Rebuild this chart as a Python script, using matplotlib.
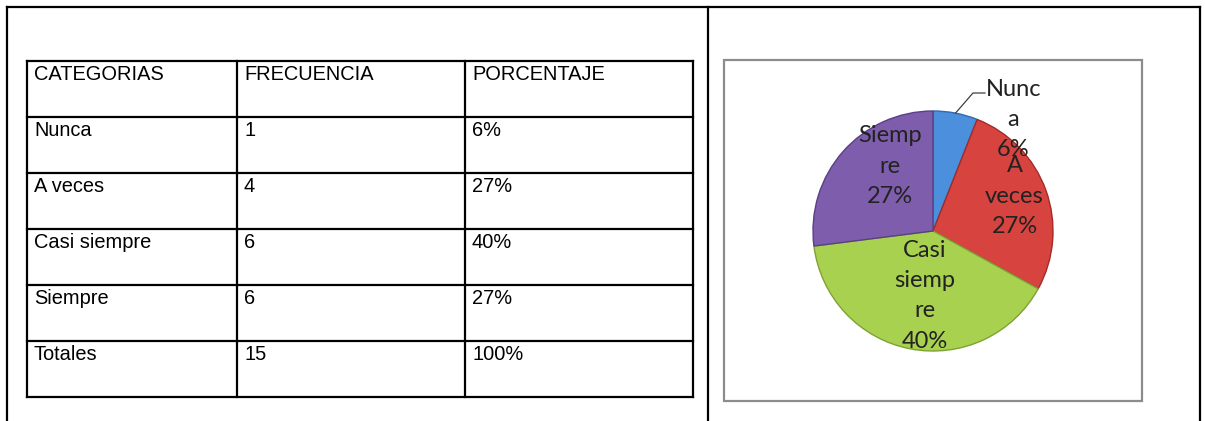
import matplotlib
matplotlib.use("Agg")
import matplotlib.pyplot as plt
from matplotlib.patches import Rectangle
import numpy as np

# table data
headers = ["CATEGORIAS", "FRECUENCIA", "PORCENTAJE"]
categorias = ["Nunca", "A veces", "Casi siempre", "Siempre", "Totales"]
frecuencia = ["1", "4", "6", "6", "15"]
porcentaje = ["6%", "27%", "40%", "27%", "100%"]

# pie data (as shown in the chart)
pie_names = ["Nunc\na", "A\nveces", "Casi\nsiemp\nre", "Siemp\nre"]
pie_values = [6, 27, 40, 27]
pie_colors = ["#4C8FDD", "#D7443F", "#A8D14F", "#7E5DAC"]
pie_edges = ["#2F6AB0", "#A02C28", "#7EA235", "#5A3F86"]

W, H = 1205, 421
fig = plt.figure(figsize=(W / 100, H / 100), dpi=100)
ax = fig.add_axes([0, 0, 1, 1])
ax.set_xlim(0, W)
ax.set_ylim(H, 0)
ax.axis("off")

lw = 1.6
# outer frame of the document table
ax.plot([7, 1200], [7, 7], color="black", lw=lw)
for x in [7, 708, 1200]:
    ax.plot([x, x], [7, H], color="black", lw=lw)

# inner table
col_x = [27, 237, 465, 693]
row_y = [61, 117, 173, 229, 285, 341, 397]
for x in col_x:
    ax.plot([x, x], [row_y[0], row_y[-1]], color="black", lw=lw)
for y in row_y:
    ax.plot([col_x[0], col_x[-1]], [y, y], color="black", lw=lw)

rows = [headers] + [list(r) for r in zip(categorias, frecuencia, porcentaje)]
for i, row in enumerate(rows):
    for j, txt in enumerate(row):
        ax.text(col_x[j] + 7, row_y[i] + 19, txt, fontsize=14.4,
                family="Liberation Sans", va="baseline", ha="left", color="black")

# chart box
ax.add_patch(Rectangle((724, 60), 1142 - 724, 401 - 60, fill=False,
                       edgecolor="#8C8C8C", lw=1.6))

# pie
cx, cy, r = 933, 231, 120
pax = fig.add_axes([(cx - 1.25 * r) / W, (H - cy - 1.25 * r) / H,
                    2.5 * r / W, 2.5 * r / H])
wedges, _ = pax.pie(pie_values, colors=pie_colors, startangle=90,
                    counterclock=False, radius=1,
                    wedgeprops=dict(linewidth=1.0))
for w, ec in zip(wedges, pie_edges):
    w.set_edgecolor(ec)
pax.set_xlim(-1.25, 1.25)
pax.set_ylim(-1.25, 1.25)
pax.axis("off")

# label placement (Excel "best fit" look)
label_pos = [(0.67, 0.93), (0.68, 0.29), (-0.07, -0.54), (-0.36, 0.54)]
for name, val, (lx, ly) in zip(pie_names, pie_values, label_pos):
    pax.text(lx, ly, f"{name}\n{val}%", ha="center", va="center",
             multialignment="center", fontsize=17, family="Lato",
             color="#222222", linespacing=1.55)

# leader line for the small slice
w0 = wedges[0]
mid = np.deg2rad((w0.theta1 + w0.theta2) / 2)
ex, ey = np.cos(mid), np.sin(mid)
pax.plot([ex, 0.333, 0.433], [ey, 1.15, 1.15], color="#404040", lw=0.9)

fig.savefig("out.png", dpi=100)
